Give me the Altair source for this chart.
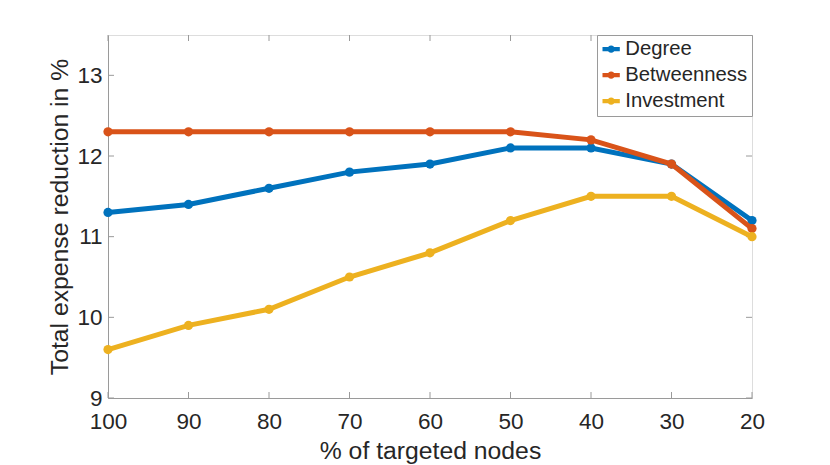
import altair as alt
import pandas as pd

x_vals = [100, 90, 80, 70, 60, 50, 40, 30, 20]
degree = [11.3, 11.4, 11.6, 11.8, 11.9, 12.1, 12.1, 11.9, 11.2]
betweenness = [12.3, 12.3, 12.3, 12.3, 12.3, 12.3, 12.2, 11.9, 11.1]
investment = [9.6, 9.9, 10.1, 10.5, 10.8, 11.2, 11.5, 11.5, 11.0]
series = ["Degree", "Betweenness", "Investment"]
colors = ["#0072BD", "#D95319", "#EDB120"]
x_ticks = [100, 90, 80, 70, 60, 50, 40, 30, 20]
y_ticks = [9, 10, 11, 12, 13]

rows = []
for name, vals in zip(series, [degree, betweenness, investment]):
    for xv, yv in zip(x_vals, vals):
        rows.append({"x": xv, "y": yv, "series": name})
df = pd.DataFrame(rows)

W, H = 644, 363
FONT = "Liberation Sans"
TXT = "#262626"
AX = "#9a9a9a"
TL = 6

xscale = alt.Scale(domain=[20, 100], reverse=True, nice=False, zero=False)
yscale = alt.Scale(domain=[9, 13.5], nice=False, zero=False)

sym_path = ("M-1,-0.24L1,-0.24L1,0.24L-1,0.24Z "
            "M-0.42,0A0.42,0.42 0 1,1 0.42,0A0.42,0.42 0 1,1 -0.42,0Z")

legend = alt.Legend(
    title=None, orient="top-right", offset=0,
    symbolType=sym_path, symbolSize=300, symbolStrokeWidth=0, symbolOpacity=1,
    labelFont=FONT, labelFontSize=20.3, labelColor=TXT, labelOffset=4,
    rowPadding=5, padding=4, strokeColor=AX, fillColor="white",
    labelLimit=300,
)
color_enc = alt.Color("series:N", scale=alt.Scale(domain=series, range=colors), legend=legend)

base = alt.Chart(df)
layers = []

axes = base.mark_point(opacity=0).encode(
    x=alt.X("x:Q", scale=xscale, title="% of targeted nodes",
            axis=alt.Axis(values=x_ticks, ticks=False, grid=False, domainColor=AX, format="d",
                          labelFlush=False, labelOverlap=False,
                          labelFont=FONT, labelFontSize=22.5, labelColor=TXT, labelPadding=12,
                          titleFont=FONT, titleFontSize=24.75, titleColor=TXT, titleFontWeight="normal",
                          titleY=60, titleBaseline="alphabetic")),
    y=alt.Y("y:Q", scale=yscale, title="Total expense reduction in %",
            axis=alt.Axis(values=y_ticks, ticks=False, grid=False, domainColor=AX, format="d",
                          labelFlush=False, labelOverlap=False,
                          labelFont=FONT, labelFontSize=22.5, labelColor=TXT, labelPadding=6,
                          titleFont=FONT, titleFontSize=24.75, titleColor=TXT, titleFontWeight="normal",
                          titleX=-41, titleBaseline="alphabetic")),
)
layers.append(axes)

xt = alt.Chart(pd.DataFrame({"t": x_ticks}))
yt = alt.Chart(pd.DataFrame({"t": y_ticks}))
layers.append(xt.mark_rule(color=AX, strokeWidth=1).encode(
    x=alt.X("t:Q", scale=xscale), y=alt.value(H), y2=alt.value(H - TL)))
layers.append(xt.mark_rule(color=AX, strokeWidth=1).encode(
    x=alt.X("t:Q", scale=xscale), y=alt.value(0), y2=alt.value(TL)))
layers.append(yt.mark_rule(color=AX, strokeWidth=1).encode(
    y=alt.Y("t:Q", scale=yscale), x=alt.value(0), x2=alt.value(TL)))
layers.append(yt.mark_rule(color=AX, strokeWidth=1).encode(
    y=alt.Y("t:Q", scale=yscale), x=alt.value(W), x2=alt.value(W - TL)))

for name, col in zip(series, colors):
    sub = base.transform_filter(alt.datum.series == name)
    layers.append(sub.mark_line(color=col, strokeWidth=5, clip=False).encode(
        x=alt.X("x:Q", scale=xscale), y=alt.Y("y:Q", scale=yscale)))
    layers.append(sub.mark_point(filled=True, opacity=1, size=85, clip=False).encode(
        x=alt.X("x:Q", scale=xscale), y=alt.Y("y:Q", scale=yscale), color=color_enc))

chart = alt.layer(*layers).properties(
    width=W, height=H,
    autosize=alt.AutoSizeParams(type="none"),
    padding={"left": 100, "top": 27, "right": 60, "bottom": 66},
).configure_view(stroke=AX, strokeWidth=1).configure(background="white")

chart.save("out.html", embed_options={"renderer": "svg", "actions": False})
